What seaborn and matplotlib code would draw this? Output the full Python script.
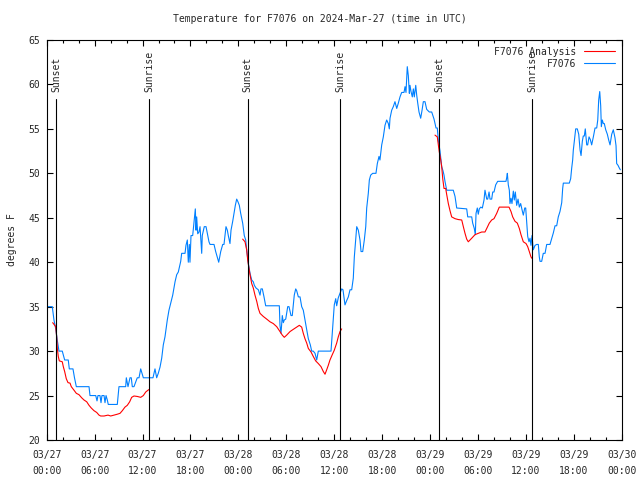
"""
Station temperature vs. analysis, gnuplot-like look
"""
from datetime import datetime, timedelta
import numpy as np
import pandas as pd
import matplotlib
matplotlib.use('Agg')
import matplotlib.pyplot as plt
from matplotlib.lines import Line2D
import seaborn as sns

# hours since 2024-03-27 00:00 UTC
obs_hours = [
    0.00, 0.70, 0.91, 1.13, 1.33, 1.54, 1.95, 2.25, 2.70, 2.83, 3.29, 3.48, 3.71, 5.30, 5.42,
    6.14, 6.30, 6.42, 6.67, 6.80, 6.92, 7.18, 7.30, 7.43, 7.59, 7.71, 8.84, 9.05, 9.89, 9.97,
    10.18, 10.43, 10.59, 10.72, 10.93, 11.14, 11.34, 11.56, 11.77, 11.93, 12.10, 12.94, 13.31,
    13.56, 13.77, 13.97, 14.19, 14.40, 14.60, 14.81, 15.10, 15.31, 15.53, 15.78, 16.07, 16.28,
    16.48, 16.78, 16.90, 17.32, 17.44, 17.61, 17.73, 17.86, 17.94, 18.07, 18.28, 18.36, 18.48,
    18.61, 18.70, 18.78, 18.91, 19.07, 19.20, 19.41, 19.48, 19.73, 19.95, 20.11, 20.32, 20.45,
    20.95, 21.16, 21.41, 21.54, 21.79, 22.04, 22.20, 22.45, 22.62, 22.74, 22.95, 23.08, 23.29,
    23.45, 23.62, 23.79, 23.95, 24.12, 24.29, 24.54, 24.74, 24.92, 25.04, 25.24, 25.46, 25.67,
    25.87, 26.00, 26.21, 26.50, 26.71, 26.83, 27.00, 27.21, 27.42, 29.13, 29.21, 29.34, 29.50,
    29.63, 29.75, 29.93, 30.18, 30.34, 30.59, 30.75, 31.00, 31.18, 31.30, 31.51, 31.72, 31.93,
    32.13, 32.34, 32.56, 32.76, 33.01, 33.18, 33.38, 33.60, 33.81, 34.01, 35.60, 35.76, 35.89,
    36.01, 36.19, 36.31, 36.51, 36.73, 36.94, 37.10, 37.35, 37.57, 37.77, 37.98, 38.19, 38.39,
    38.52, 38.69, 38.82, 39.02, 39.23, 39.36, 39.57, 39.77, 39.95, 40.07, 40.27, 40.40, 40.57,
    40.82, 41.23, 41.40, 41.61, 41.73, 41.95, 42.15, 42.36, 42.57, 42.78, 42.90, 42.99, 43.20,
    43.40, 43.61, 43.83, 44.03, 44.24, 44.45, 44.74, 44.87, 44.99, 45.15, 45.28, 45.41, 45.49,
    45.62, 45.78, 45.91, 46.03, 46.21, 46.33, 46.46, 46.62, 46.83, 47.00, 47.16, 47.37, 47.58,
    47.91, 48.21, 48.50, 48.75, 48.91, 49.04, 49.25, 49.46, 49.62, 49.75, 49.87, 50.09, 50.91,
    51.13, 51.34, 52.59, 52.72, 53.22, 53.34, 53.54, 53.67, 53.76, 53.92, 54.04, 54.17, 54.35,
    54.55, 54.76, 54.88, 55.10, 55.22, 55.39, 55.51, 55.72, 55.85, 56.01, 56.22, 56.47, 57.51,
    57.60, 57.68, 57.80, 57.93, 58.01, 58.14, 58.26, 58.43, 58.55, 58.68, 58.85, 59.02, 59.18,
    59.35, 59.52, 59.68, 59.86, 59.98, 60.11, 60.23, 60.39, 60.52, 60.64, 60.77, 60.93, 61.15,
    61.36, 61.56, 61.68, 61.77, 61.98, 62.18, 62.40, 62.61, 63.02, 63.24, 63.44, 63.65, 63.86,
    64.06, 64.27, 64.49, 64.61, 64.69, 65.44, 65.61, 65.74, 65.86, 65.94, 66.07, 66.24, 66.44,
    66.62, 66.79, 66.91, 67.07, 67.19, 67.32, 67.44, 67.62, 67.74, 67.91, 68.07, 68.24, 68.45,
    68.66, 68.87, 69.00, 69.12, 69.25, 69.37, 69.45, 69.57, 69.70, 69.82, 70.00, 70.20, 70.37,
    70.54, 70.75, 70.95, 71.16, 71.29, 71.37, 71.54, 71.70, 71.83,
]
obs_temp = [
    35, 35, 33.5, 32.5, 31.2, 30, 30, 29, 29, 28, 28, 27, 26, 26, 25,
    25, 24.4, 25, 25, 24.2, 25, 25, 24.2, 25, 24.5, 24, 24, 26, 26, 27,
    26, 27, 27, 26, 26, 26.5, 27, 27, 28, 27.5, 27, 27, 27,
    28, 27, 27.5, 28.2, 29.2, 30.7, 31.6, 33.5, 34.6, 35.4, 36.3, 37.8, 38.6,
    38.9, 40.1, 41, 41, 41.9, 42.5, 40, 42, 40, 43, 43, 43.7, 44.75,
    46, 43.6, 45.1, 43.2, 43.4, 44, 41, 43, 44, 44, 43.25, 42.3, 42,
    42, 41.2, 40.4, 40, 41.2, 42, 42, 44, 43.6, 43, 42.1, 43.6, 44.6,
    45.5, 46.4, 47.1, 46.8, 46.4, 45.5, 44.4, 43, 42.5, 41.4, 39.9, 38.75, 38,
    37.8, 37.4, 37.1, 36.9, 36.3, 37, 37, 36.1, 35.1, 35.1, 32.9, 32, 34,
    33.2, 33.5, 33.6, 35, 35, 34, 34, 36.3, 37, 36.8, 36.1, 36.1, 35,
    34.6, 33.5, 32.4, 31.4, 30.7, 30, 30, 29.75, 29, 30, 30, 32, 33.7,
    35.2, 35.9, 35.1, 36, 36.5, 37, 36.9, 35.2, 35.7, 36.1, 36.9, 36.9, 38.2,
    40.6, 42.5, 44, 43.6, 42.5, 41.2, 41.2, 42.5, 44, 46.1, 47.75, 49.25, 49.8,
    50, 50, 51.1, 51.9, 51.5, 53.2, 54.1, 55.4, 56, 55.6, 55, 56.2, 57.1,
    57.5, 58.06, 57.3, 57.9, 58.6, 59.1, 59.1, 59.75, 59.1, 62, 61, 59, 59.9,
    59.2, 58.6, 59.5, 58.6, 59.9, 58.8, 57.9, 56.9, 56.2, 57.1, 58.06, 58.06, 57.2,
    56.9, 56.9, 56.1, 55.1, 55.1, 53.7, 52.5, 50.75, 50.3, 49.8, 49.1, 48.1, 48.1,
    47.4, 46.1, 46, 45.1, 45.1, 44.4, 43.8, 43.1, 45.5, 46.1, 45.4, 46, 46.2,
    46.1, 47, 48.1, 47.1, 47.1, 47.9, 47.1, 47.1, 47.9, 47.9, 48.7, 49.1, 49.1,
    49.5, 50, 48.7, 48.1, 46.6, 47.2, 46.6, 48, 47, 47.9, 46.4, 47.1, 46.2,
    46.6, 45.9, 45.3, 46.1, 46.1, 44.4, 42.9, 42.3, 42.7, 41.9, 43, 41.4, 41.9,
    42, 42, 40.6, 40.1, 40.1, 41, 41, 42, 42, 42.7, 43.3, 44.1, 44.1,
    45.1, 45.7, 46.7, 48.3, 48.9, 48.9, 49.4, 50.6, 51.5, 52.6, 53.6, 55, 55,
    54.4, 52.6, 52, 53.6, 54.2, 54.2, 55, 53.2, 53.2, 54.1, 53.8, 53.2, 54.1,
    55.1, 55.1, 56, 58.25, 59.2, 57.6, 55.25, 56, 55.6, 55.6, 54.9, 54.4, 53.75,
    53.2, 54.4, 54.9, 54, 53.1, 51.1, 50.9, 50.6, 50.4,
]

# analysis, one run per night
ana1_hours = [0.75, 1.13, 1.25, 1.33, 1.45, 1.58, 1.95, 2.08, 2.25, 2.45, 2.67, 2.92, 3.08,
              3.42, 3.71, 4.04, 4.38, 4.67, 5.01, 5.30, 5.58, 5.92, 6.26, 6.55, 6.76, 7.18,
              7.68, 8.01, 8.43, 8.84, 9.18, 9.47, 9.80, 10.09, 10.39, 10.64, 10.93, 11.34,
              11.77, 12.10, 12.40, 12.68, 12.85]
ana1_temp = [33.2, 32.75, 31.6, 30.3, 29.4, 28.9, 28.8, 28.25, 27.7, 26.9, 26.45, 26.4, 26,
             25.6, 25.25, 25.1, 24.75, 24.5, 24.3, 23.9, 23.6, 23.3, 23.1, 22.8, 22.7, 22.7,
             22.8, 22.7, 22.8, 22.9, 23, 23.3, 23.7, 23.9, 24.3, 24.8, 24.95, 24.9,
             24.8, 25, 25.4, 25.6, 25.7]
ana2_hours = [24.54, 24.83, 25.04, 25.17, 25.33, 25.46, 25.67, 25.87, 26.08, 26.30, 26.50,
              26.71, 27.12, 27.55, 27.96, 28.37, 28.80, 29.21, 29.50, 29.75, 30.05, 30.47,
              30.88, 31.30, 31.63, 31.93, 32.13, 32.34, 32.56, 32.76, 33.10, 33.38, 33.68,
              34.01, 34.35, 34.64, 34.85, 35.06, 35.26, 35.47, 35.76, 36.01, 36.31, 36.51,
              36.73, 36.94]
ana2_temp = [42.6, 42.3, 41.4, 40.25, 39.3, 38.6, 37.6, 37.1, 36.3, 35.6, 34.8,
             34.25, 33.9, 33.6, 33.3, 33.1, 32.75, 32.2, 31.8, 31.55, 31.8, 32.2,
             32.45, 32.7, 32.9, 32.7, 32, 31.4, 30.9, 30.3, 29.9, 29.4, 28.9,
             28.6, 28.25, 27.7, 27.4, 27.9, 28.4, 29, 29.6, 30.1, 30.9, 31.6,
             32.2, 32.5]
ana3_hours = [48.62, 48.91, 49.04, 49.16, 49.34, 49.46, 49.59, 49.75, 49.96, 50.09, 50.29,
              50.50, 50.71, 51.13, 51.54, 51.97, 52.17, 52.38, 52.59, 52.79, 53.22, 53.63,
              54.04, 54.47, 54.88, 55.10, 55.42, 55.72, 56.01, 56.35, 56.67, 57.89, 58.14,
              58.35, 58.64, 58.93, 59.18, 59.39, 59.68, 60.02, 60.23, 60.43, 60.64, 60.80]
ana3_temp = [54.3, 54.1, 53.2, 52.4, 51.5, 50.75, 49.4, 48.3, 48.3, 47.6, 46.6,
             45.8, 45.1, 44.9, 44.8, 44.75, 44, 43.25, 42.6, 42.3, 42.7, 43.1,
             43.25, 43.4, 43.4, 43.8, 44.4, 44.75, 44.9, 45.5, 46.2, 46.2, 45.7,
             45.1, 44.6, 44.4, 43.8, 43.1, 42.3, 42.1, 41.75, 41.2, 40.6, 40.4]

sunset_hours = [1.2, 25.15, 49.15]
sunrise_hours = [12.85, 36.78, 60.8]

start = datetime(2024, 3, 27)
tick_hours = list(range(0, 73, 6))
tick_labels = [(start + timedelta(hours=h)).strftime('%m/%d\n%H:%M') for h in tick_hours]

RED = '#ff0000'
BLUE = '#0080ff'
FONT = 'DejaVu Sans Mono'
LW = 0.8

sns.set_style('ticks')
plt.rcParams['font.family'] = [FONT]
plt.rcParams['font.size'] = 7

obs = pd.DataFrame({'hour': obs_hours, 'temp': obs_temp})
ana = pd.concat([
    pd.DataFrame({'hour': ana1_hours, 'temp': ana1_temp, 'night': 1}),
    pd.DataFrame({'hour': ana2_hours, 'temp': ana2_temp, 'night': 2}),
    pd.DataFrame({'hour': ana3_hours, 'temp': ana3_temp, 'night': 3}),
], ignore_index=True)

fig = plt.figure(figsize=(6.4, 4.8), dpi=100)
ax = fig.add_axes([46.7 / 640, 40 / 480, 575 / 640, 400 / 480])

sns.lineplot(data=obs, x='hour', y='temp', ax=ax, color=BLUE, lw=LW,
             estimator=None, sort=False)
sns.lineplot(data=ana, x='hour', y='temp', units='night', ax=ax, color=RED, lw=LW,
             estimator=None, sort=False)

# sunrise / sunset markers
line_top = 58.4
for hours, name in [(sunset_hours, 'Sunset'), (sunrise_hours, 'Sunrise')]:
    for h in hours:
        ax.plot([h, h], [20, line_top], color='black', lw=LW)
        ax.text(h, line_top + 0.75, name, rotation=90, ha='center', va='bottom',
                fontsize=7, family=FONT)

ax.set_xlim(0, 72)
ax.set_ylim(20, 65)
ax.set_xticks(tick_hours)
ax.set_xticklabels(tick_labels, linespacing=1.75)
ax.set_xticks(np.arange(0, 73, 2), minor=True)
ax.set_yticks(np.arange(20, 66, 5))
ax.tick_params(which='both', direction='in', top=True, right=True, color='black',
               labelsize=7, width=LW)
ax.tick_params(axis='x', which='major', length=4.5, pad=7)
ax.tick_params(axis='y', which='major', length=4.5, pad=5)
ax.tick_params(which='minor', length=2.5)
for s in ax.spines.values():
    s.set_color('black')
    s.set_linewidth(LW)
ax.set_xlabel('')
ax.set_ylabel('degrees F', fontsize=7, labelpad=8)

fig.text(0.5, 1 - 19 / 480, 'Temperature for F7076 on 2024-Mar-27 (time in UTC)',
         ha='center', va='center', fontsize=7)

handles = [Line2D([], [], color=RED, lw=LW), Line2D([], [], color=BLUE, lw=LW)]
ax.legend(handles, ['F7076 Analysis', 'F7076'], loc='upper right', frameon=False,
          markerfirst=False, fontsize=7, handlelength=3.2, handletextpad=0.8,
          labelspacing=0.2, borderaxespad=0.3)

fig.savefig('out.png', dpi=100)
